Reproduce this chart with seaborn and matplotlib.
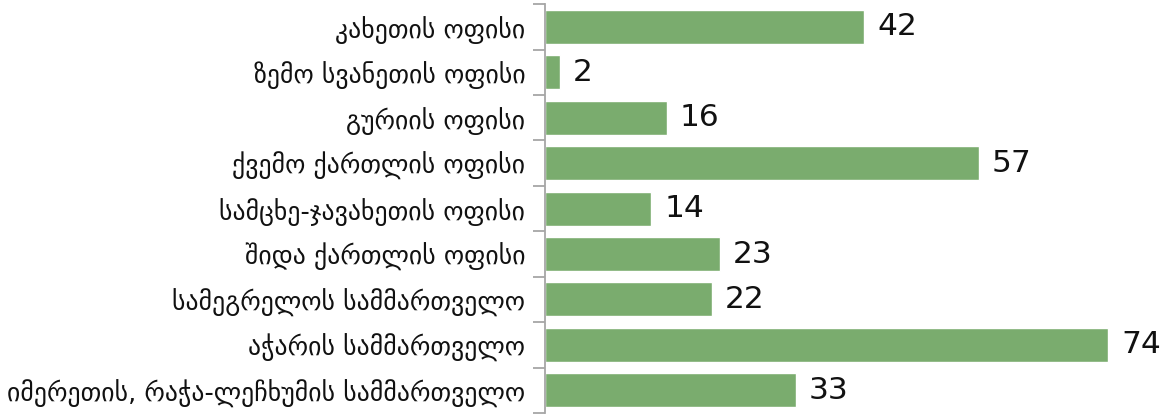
import matplotlib
matplotlib.use("Agg")
import matplotlib.pyplot as plt
import seaborn as sns
import pandas as pd
import numpy as np

categories = [
    "კახეთის ოფისი",
    "ზემო სვანეთის ოფისი",
    "გურიის ოფისი",
    "ქვემო ქართლის ოფისი",
    "სამცხე-ჯავახეთის ოფისი",
    "შიდა ქართლის ოფისი",
    "სამეგრელოს სამმართველო",
    "აჭარის სამმართველო",
    "იმერეთის, რაჭა-ლეჩხუმის სამმართველო",
]
values = [42, 2, 16, 57, 14, 23, 22, 74, 33]

sns.set_theme(style="white")
plt.rcParams["font.family"] = ["DejaVu Sans"]

df = pd.DataFrame({"cat": categories, "val": values})

fig = plt.figure(figsize=(11.69, 4.18), dpi=100)
ax = fig.add_axes([0.466, 0.012, 0.534, 0.978])
sns.barplot(data=df, y="cat", x="val", orient="h", color="#7aac6e",
            saturation=1, width=0.75, ax=ax)

ax.set_xlim(0, 82)
ax.set_ylim(len(categories) - 0.5, -0.5)
ax.set_xlabel("")
ax.set_ylabel("")
ax.set_xticks([])
for s in ["top", "right", "bottom"]:
    ax.spines[s].set_visible(False)
ax.spines["left"].set_color("#a6a6a6")
ax.spines["left"].set_linewidth(1.3)

ax.tick_params(axis="y", which="major", length=0, labelsize=18.5, pad=14,
               labelcolor="#111111")
ax.set_yticks(np.arange(len(categories) + 1) - 0.5, minor=True)
ax.tick_params(axis="y", which="minor", length=9, width=1.3, color="#a6a6a6",
               direction="out", left=True)

for i, v in enumerate(values):
    ax.text(v + 1.7, i, str(v), va="center", ha="left", fontsize=22.5,
            color="#111111")

fig.savefig("out.png", dpi=100)
